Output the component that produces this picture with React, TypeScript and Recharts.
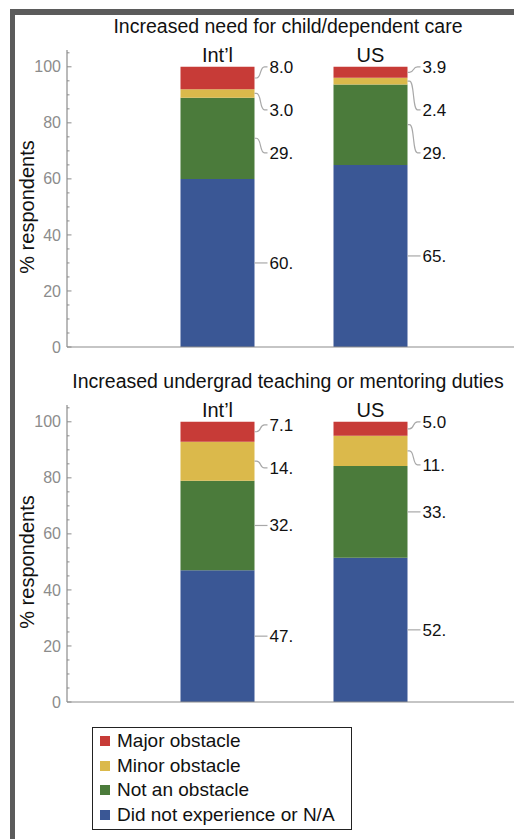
import React from 'react';
import { BarChart, Bar, XAxis, YAxis, LabelList, Legend } from 'recharts';

const FONT = '"Liberation Sans", Arial, Helvetica, sans-serif';

const groups = ['Int\u2019l', 'US'];
const seriesKeys = ['none', 'not', 'minor', 'major'];
const seriesNames = ['Did not experience or N/A', 'Not an obstacle', 'Minor obstacle', 'Major obstacle'];
const seriesColors = ['#3a5795', '#4b7b3b', '#dbb94b', '#c73b37'];

const careTitle = 'Increased need for child/dependent care';
const careNone = [60, 65];
const careNot = [29, 28.7];
const careMinor = [3.0, 2.4];
const careMajor = [8.0, 3.9];

const teachTitle = 'Increased undergrad teaching or mentoring duties';
const teachNone = [47, 51.5];
const teachNot = [32, 32.7];
const teachMinor = [13.9, 10.8];
const teachMajor = [7.1, 5.0];

const yTicks = [0, 5, 10, 15, 20, 25, 30, 35, 40, 45, 50, 55, 60, 65, 70, 75, 80, 85, 90, 95, 100, 105];

type Row = { name: string; none: number; not: number; minor: number; major: number };

const buildRows = (none: number[], not: number[], minor: number[], major: number[]): Row[] =>
  groups.map((name, i) => ({ name, none: none[i], not: not[i], minor: minor[i], major: major[i] }));

const careRows = buildRows(careNone, careNot, careMinor, careMajor);
const teachRows = buildRows(teachNone, teachNot, teachMinor, teachMajor);

// Mathematica-style 2 significant digits: 8.0, 29.
const fmt = (v: number) => (v < 10 ? v.toFixed(1) : `${Math.round(v)}.`);

const LABEL_GAP = 43;

// push labels apart (centers ordered top -> bottom), keep first one below bar top
function spread(centers: number[], top: number) {
  const clusters: { start: number; idx: number[] }[] = [];
  centers.forEach((c, i) => {
    clusters.push({ start: c, idx: [i] });
    while (clusters.length > 1) {
      const b = clusters[clusters.length - 1];
      const a = clusters[clusters.length - 2];
      if (a.start + a.idx.length * LABEL_GAP <= b.start) break;
      const idx = [...a.idx, ...b.idx];
      const start = idx.reduce((s, j, k) => s + centers[j] - k * LABEL_GAP, 0) / idx.length;
      clusters.splice(-2, 2, { start, idx });
    }
  });
  const out: number[] = [];
  clusters.forEach((cl) => cl.idx.forEach((j, k) => (out[j] = cl.start + k * LABEL_GAP)));
  for (let i = 0; i < out.length; i++) {
    const min = i === 0 ? top : out[i - 1] + LABEL_GAP;
    if (out[i] < min) out[i] = min;
  }
  return out;
}

const segmentLabel = (rows: Row[], k: number) => (props: any) => {
  const vb = props.viewBox ?? props;
  const x = Number(vb.x ?? props.x);
  const y = Number(vb.y ?? props.y);
  const width = Number(vb.width ?? props.width);
  const height = Number(vb.height ?? props.height);
  const row: any = rows[props.index];
  if (!row) return null;
  const vals = seriesKeys.map((s) => row[s] as number);
  const px = height / vals[k];
  const below = (j: number) => vals.slice(0, j).reduce((a, b) => a + b, 0);
  const base = y + height + below(k) * px;
  const top = base - below(vals.length) * px;
  const order = [3, 2, 1, 0];
  const centers = order.map((j) => base - (below(j) + vals[j] / 2) * px);
  const pos = spread(centers, top);
  const ly = pos[order.indexOf(k)];
  const cy = base - (below(k) + vals[k] / 2) * px;
  const x0 = x + width;
  const d =
    Math.abs(ly - cy) < 1
      ? `M${x0},${cy} L${x0 + 13},${cy}`
      : `M${x0},${cy} L${x0 + 2},${cy} C${x0 + 7},${cy} ${x0 + 5},${ly} ${x0 + 10},${ly} L${x0 + 13},${ly}`;
  return (
    <g>
      <path d={d} fill="none" stroke="#a8a8a8" strokeWidth={1.2} />
      <text x={x0 + 15} y={ly} dy="0.35em" fontSize={17} fill="#111" fontFamily={FONT}>
        {fmt(vals[k])}
      </text>
    </g>
  );
};

const groupLabel = (props: any) => {
  const vb = props.viewBox ?? props;
  const x = Number(vb.x ?? props.x);
  const y = Number(vb.y ?? props.y);
  const width = Number(vb.width ?? props.width);
  return (
    <text x={x + width / 2} y={y - 5} textAnchor="middle" fontSize={20} fill="#111" fontFamily={FONT}>
      {props.value}
    </text>
  );
};

const YTick = (props: any) => {
  const { x, y, payload } = props;
  const major = payload.value % 20 === 0;
  return (
    <g>
      <line x1={x} y1={y} x2={x + (major ? 4.5 : 2.5)} y2={y} stroke="#8c8c8c" strokeWidth={1} />
      {major && (
        <text x={x - 6} y={y} dy="0.35em" textAnchor="end" fontSize={16} fill="#8c8c8c" fontFamily={FONT}>
          {payload.value}
        </text>
      )}
    </g>
  );
};

const LegendBox = () => (
  <div
    style={{
      border: '1.5px solid #222',
      boxSizing: 'border-box',
      width: 260,
      height: 103,
      padding: '1px 0 0 7px',
      background: '#fff',
      fontFamily: FONT,
      fontSize: 19,
      color: '#111',
    }}
  >
    {[3, 2, 1, 0].map((j) => (
      <div key={seriesKeys[j]} style={{ display: 'flex', alignItems: 'center', height: 24.5, whiteSpace: 'nowrap' }}>
        <span style={{ width: 10, height: 10, background: seriesColors[j], marginRight: 7, flex: 'none' }} />
        {seriesNames[j]}
      </div>
    ))}
  </div>
);

function Panel({ rows, top, height, withLegend }: { rows: Row[]; top: number; height: number; withLegend?: boolean }) {
  return (
    <div style={{ position: 'absolute', left: 0, top }}>
      <BarChart width={514} height={height} data={rows} margin={{ top: 50, right: 0, bottom: height - 357, left: 0 }}>
        <XAxis
          dataKey="name"
          type="category"
          height={10}
          tick={false}
          tickLine={false}
          axisLine={{ stroke: '#8c8c8c', strokeWidth: 1.2 }}
          padding={{ left: 73.5, right: 67.5 }}
        />
        <YAxis
          type="number"
          domain={[0, 106]}
          ticks={yTicks}
          interval={0}
          width={67}
          tickSize={0}
          tickMargin={0}
          tickLine={false}
          axisLine={{ stroke: '#8c8c8c', strokeWidth: 1.2 }}
          tick={(p: any) => <YTick {...p} />}
          allowDataOverflow
        />
        {seriesKeys.map((key, k) => (
          <Bar key={key} dataKey={key} name={seriesNames[k]} stackId="s" fill={seriesColors[k]} barSize={74} isAnimationActive={false}>
            <LabelList dataKey={key} content={segmentLabel(rows, k)} />
            {k === seriesKeys.length - 1 && <LabelList dataKey="name" content={groupLabel} />}
          </Bar>
        ))}
        {withLegend && (
          <Legend
            layout="vertical"
            align="center"
            verticalAlign="middle"
            content={() => <LegendBox />}
            wrapperStyle={{ left: 92, top: 372, width: 260, height: 103 }}
          />
        )}
      </BarChart>
    </div>
  );
}

const titleStyle = (top: number): React.CSSProperties => ({
  position: 'absolute',
  left: 62,
  top,
  width: 452,
  height: 24,
  lineHeight: '24px',
  textAlign: 'center',
  fontFamily: FONT,
  fontSize: 19.5,
  color: '#111',
  whiteSpace: 'nowrap',
});

const yLabelStyle = (cy: number): React.CSSProperties => ({
  position: 'absolute',
  left: 27,
  top: cy,
  width: 200,
  textAlign: 'center',
  transform: 'translate(-50%, -50%) rotate(-90deg)',
  fontFamily: FONT,
  fontSize: 20,
  lineHeight: '24px',
  color: '#111',
  whiteSpace: 'nowrap',
});

export default function App() {
  return (
    <div style={{ position: 'absolute', left: 0, top: 0, width: 514, height: 839, overflow: 'hidden', background: '#fff' }}>
      <div
        style={{
          position: 'absolute',
          left: 10,
          top: 9,
          width: 600,
          height: 900,
          borderLeft: '5px solid #5b5b5b',
          borderTop: '6px solid #5b5b5b',
          boxSizing: 'border-box',
        }}
      />
      <div style={titleStyle(14)}>{careTitle}</div>
      <div style={yLabelStyle(207)}>% respondents</div>
      <Panel rows={careRows} top={0} height={360} />
      <div style={titleStyle(369)}>{teachTitle}</div>
      <div style={yLabelStyle(562)}>% respondents</div>
      <Panel rows={teachRows} top={355} height={484} withLegend />
    </div>
  );
}
